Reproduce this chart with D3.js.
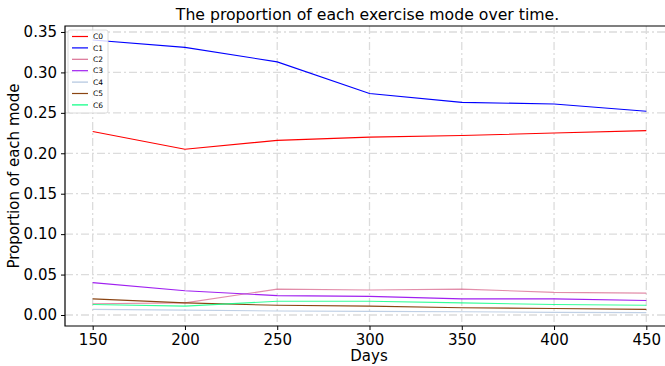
<!DOCTYPE html>
<html>
<head>
<meta charset="utf-8">
<script src="https://cdn.jsdelivr.net/npm/d3@7"></script>
<style>
  body { margin: 0; background: #fff; }
  svg { font-family: "DejaVu Sans", sans-serif; }
</style>
</head>
<body>
<div class="chart"></div>
<script>
// days on the x axis
const days = [150, 200, 250, 300, 350, 400, 450];

// proportion of each mode
const c0 = [0.227, 0.205, 0.216, 0.220, 0.222, 0.225, 0.228];
const c1 = [0.340, 0.331, 0.313, 0.274, 0.263, 0.261, 0.252];
const c2 = [0.014, 0.015, 0.032, 0.031, 0.032, 0.028, 0.027];
const c3 = [0.040, 0.030, 0.024, 0.023, 0.020, 0.020, 0.018];
const c4 = [0.007, 0.006, 0.005, 0.0045, 0.004, 0.0033, 0.003];
const c5 = [0.020, 0.015, 0.012, 0.011, 0.009, 0.008, 0.007];
const c6 = [0.013, 0.011, 0.017, 0.017, 0.015, 0.013, 0.012];

const names = ['C0', 'C1', 'C2', 'C3', 'C4', 'C5', 'C6'];
const colors = ['#ff0000', '#0000ff', '#db7093', '#a020f0', '#b0c4de', '#8b4513', '#00ff7f'];
const xTicks = [150, 200, 250, 300, 350, 400, 450];
const yTicks = [0, 0.05, 0.10, 0.15, 0.20, 0.25, 0.30, 0.35];

const series = [c0, c1, c2, c3, c4, c5, c6].map((vals, i) => ({
    name: names[i],
    color: colors[i],
    values: vals.map((v, j) => ({ day: days[j], v: v }))
}));

const width = 665;
const height = 366;
const mLeft = 65, mRight = 674, mTop = 26, mBottom = 326;

const svg = d3.select('.chart')
    .append('svg')
    .attr('width', width)
    .attr('height', height);

const x = d3.scaleLinear().domain([135, 465]).range([mLeft, mRight]);
const y = d3.scaleLinear().domain([-0.0136, 0.3574]).range([mBottom, mTop]);

//grid lines, dash-dot like the original
const grid = svg.append('g').attr('stroke', '#dcdcdc').attr('stroke-width', 1.3)
    .attr('stroke-dasharray', '8,3,2,3');
grid.selectAll('line.gx')
    .data(xTicks)
    .enter()
    .append('line')
    .attr('class', 'gx')
    .attr('x1', d => x(d)).attr('x2', d => x(d))
    .attr('y1', mTop).attr('y2', mBottom);
grid.selectAll('line.gy')
    .data(yTicks)
    .enter()
    .append('line')
    .attr('class', 'gy')
    .attr('x1', mLeft).attr('x2', mRight)
    .attr('y1', d => y(d)).attr('y2', d => y(d));

//axes
const xAxis = svg.append('g')
    .attr('transform', `translate(0,${mBottom})`)
    .call(d3.axisBottom(x).tickValues(xTicks).tickSize(4).tickPadding(4).tickSizeOuter(0));
const yAxis = svg.append('g')
    .attr('transform', `translate(${mLeft},0)`)
    .call(d3.axisLeft(y).tickValues(yTicks).tickFormat(d3.format('.2f')).tickSize(4).tickPadding(4).tickSizeOuter(0));
[xAxis, yAxis].forEach(a => {
    a.selectAll('text').attr('font-size', 15).attr('fill', '#000')
        .attr('font-family', '"DejaVu Sans", sans-serif');
    a.selectAll('line').attr('stroke', '#000').attr('stroke-width', 1);
    a.select('.domain').remove();
});

//frame: left, bottom and top spines
svg.append('path')
    .attr('d', `M${mRight},${mTop}H${mLeft}V${mBottom}H${mRight}`)
    .attr('fill', 'none')
    .attr('stroke', '#000')
    .attr('stroke-width', 1.2);

//lines
const line = d3.line().x(d => x(d.day)).y(d => y(d.v));
svg.append('g').selectAll('path')
    .data(series)
    .enter()
    .append('path')
    .attr('d', d => line(d.values))
    .attr('fill', 'none')
    .attr('stroke', d => d.color)
    .attr('stroke-width', 1.1)
    .attr('stroke-opacity', d => (d.name === 'C2' || d.name === 'C6' || d.name === 'C4') ? 0.8 : 1);

//legend
const lg = svg.append('g').attr('transform', 'translate(68,30)');
lg.append('rect')
    .attr('width', 40).attr('height', 83)
    .attr('rx', 2)
    .attr('fill', '#fff').attr('fill-opacity', 0.8)
    .attr('stroke', '#d0d0d0').attr('stroke-width', 0.8);
const item = lg.selectAll('g.item')
    .data(series)
    .enter()
    .append('g')
    .attr('class', 'item')
    .attr('transform', (d, i) => `translate(0,${6.5 + i * 11.4})`);
item.append('line')
    .attr('x1', 4).attr('x2', 20)
    .attr('stroke', d => d.color)
    .attr('stroke-width', 1.2);
item.append('text')
    .text(d => d.name)
    .attr('x', 25)
    .attr('dy', '0.35em')
    .attr('font-size', 7.5);

//title and axis labels
svg.append('text')
    .text('The proportion of each exercise mode over time.')
    .attr('x', 367.5)
    .attr('y', 20)
    .attr('text-anchor', 'middle')
    .attr('font-size', 15.7);
svg.append('text')
    .text('Days')
    .attr('x', 369)
    .attr('y', 361)
    .attr('text-anchor', 'middle')
    .attr('font-size', 15);
svg.append('text')
    .text('Proportion of each mode')
    .attr('transform', 'translate(19,176) rotate(-90)')
    .attr('text-anchor', 'middle')
    .attr('font-size', 15);
</script>
</body>
</html>
